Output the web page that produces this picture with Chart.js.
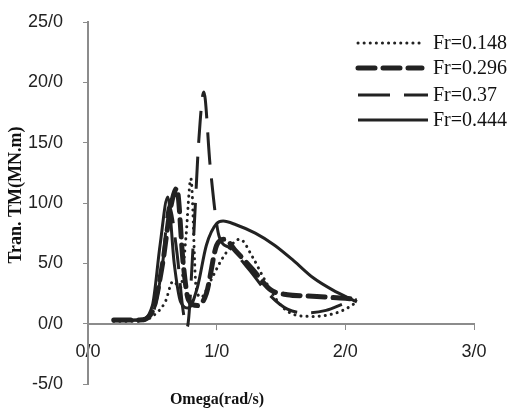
<!DOCTYPE html>
<html>
<head>
<meta charset="utf-8">
<script src="https://cdn.jsdelivr.net/npm/chart.js@4"></script>
<style>
  body { margin: 0; background: #fff; }
  #wrap { width: 516px; height: 409px; }
</style>
</head>
<body>
<div id="wrap"><canvas id="tmChart" width="516" height="409"></canvas></div>
<script>
// Series (omega in rad/s, moment in MN.m)
const labels = ['Fr=0.148', 'Fr=0.296', 'Fr=0.37', 'Fr=0.444'];

const omega148 = [0.20, 0.40, 0.50, 0.60, 0.66, 0.72, 0.76, 0.80, 0.84, 0.88, 0.95, 1.05, 1.18, 1.28, 1.38, 1.50, 1.62, 1.75, 1.90, 2.00, 2.09];
const tm148    = [0.2,  0.2,  0.6,  1.8,  3.5,  3.0,  7.0,  12.0, 3.0,  2.2,  3.5,  5.5,  7.0,  5.5,  3.5,  1.5,  0.7,  0.6,  0.8,  1.2,  1.8];

const omega296 = [0.20, 0.40, 0.50, 0.58, 0.64, 0.69, 0.74, 0.78, 0.85, 0.92, 1.00, 1.06, 1.15, 1.28, 1.42, 1.55, 1.70, 1.85, 2.00, 2.09];
const tm296    = [0.3,  0.3,  1.0,  5.0,  9.5,  11.2, 5.0,  2.0,  1.5,  2.5,  6.5,  7.0,  6.0,  4.5,  2.8,  2.4,  2.3,  2.2,  2.1,  2.0];

const omega37 = [0.20, 0.42, 0.50, 0.58, 0.63, 0.69, 0.74, 0.77, 0.82, 0.86, 0.90, 0.95, 1.02, 1.10, 1.25, 1.40, 1.55, 1.70, 1.85, 2.00, 2.09];
const tm37    = [0.3,  0.3,  0.8,  5.0,  9.8,  6.0,  1.0,  -0.3, 7.0,  15.0, 19.2, 13.0, 7.2,  6.3,  4.5,  2.5,  1.2,  0.9,  1.1,  1.7,  2.0];

const omega444 = [0.19, 0.40, 0.50, 0.56, 0.62, 0.67, 0.72, 0.78, 0.85, 0.92, 1.00, 1.05, 1.15, 1.30, 1.45, 1.60, 1.75, 1.90, 2.09];
const tm444    = [0.25, 0.3,  1.5,  6.5,  10.5, 5.0,  1.8,  1.3,  3.0,  6.5,  8.3,  8.5,  8.2,  7.5,  6.5,  5.2,  3.8,  2.8,  1.8];

const yTicks = [-5, 0, 5, 10, 15, 20, 25];
const xTicks = [0, 1, 2, 3];

const ink = '#222222';

function pts(xs, ys) {
    return xs.map((x, i) => ({ x: x, y: ys[i] }));
}

const styles = [
    { borderWidth: 3, borderDash: [0.1, 6], borderCapStyle: 'round' },
    { borderWidth: 5, borderDash: [17, 8], borderCapStyle: 'round' },
    { borderWidth: 3, borderDash: [32, 14], borderCapStyle: 'butt' },
    { borderWidth: 3, borderDash: [], borderCapStyle: 'butt' }
];

const series = [pts(omega148, tm148), pts(omega296, tm296), pts(omega37, tm37), pts(omega444, tm444)];

const datasets = series.map((data, i) => Object.assign({
    label: labels[i],
    data: data,
    borderColor: ink,
    backgroundColor: ink,
    pointRadius: 0,
    fill: false,
    tension: 0.4,
    cubicInterpolationMode: 'monotone'
}, styles[i]));

// legend inside the plot (top right) and the two axis titles
const extras = {
    id: 'extras',
    afterDraw(chart) {
        const ctx = chart.ctx;
        const rows = [43, 68, 95, 120];
        const ends = [420, 422, 428, 428];
        ctx.save();
        chart.data.datasets.forEach((ds, i) => {
            ctx.strokeStyle = ds.borderColor;
            ctx.lineWidth = ds.borderWidth;
            ctx.setLineDash(ds.borderDash);
            ctx.lineCap = ds.borderCapStyle;
            ctx.beginPath();
            ctx.moveTo(358, rows[i]);
            ctx.lineTo(ends[i], rows[i]);
            ctx.stroke();
            ctx.setLineDash([]);
            ctx.fillStyle = '#111';
            ctx.font = '20px "Liberation Serif", serif';
            ctx.textBaseline = 'middle';
            ctx.fillText(ds.label, 433, rows[i] + 1);
        });
        ctx.fillStyle = '#111';
        ctx.font = 'bold 16px "Liberation Serif", serif';
        ctx.textAlign = 'center';
        ctx.textBaseline = 'middle';
        ctx.fillText('Omega(rad/s)', 217, 400);
        ctx.translate(16, 195);
        ctx.rotate(-Math.PI / 2);
        ctx.font = 'bold 18px "Liberation Serif", serif';
        ctx.fillText('Tran. TM(MN.m)', 0, 0);
        ctx.restore();
    }
};

const fmt = v => v.toFixed(1).replace('.', '/');

new Chart(document.getElementById('tmChart').getContext('2d'), {
    type: 'line',
    data: { datasets: datasets },
    options: {
        responsive: false,
        animation: false,
        layout: { padding: { left: 0, top: 22, right: 42, bottom: 25 } },
        plugins: {
            legend: { display: false },
            tooltip: { enabled: false }
        },
        scales: {
            x: {
                type: 'linear',
                position: { y: 0 },
                min: 0,
                max: 3,
                afterBuildTicks: s => { s.ticks = xTicks.map(v => ({ value: v })); },
                afterFit: s => { s.paddingLeft = 0; s.paddingRight = 0; },
                ticks: {
                    callback: fmt,
                    color: '#222',
                    font: { family: '"Liberation Sans", sans-serif', size: 18 },
                    padding: 13
                },
                grid: { drawOnChartArea: false, color: '#8c8c8c', tickLength: 5 },
                border: { color: '#8c8c8c', width: 2 }
            },
            y: {
                min: -5,
                max: 25,
                afterBuildTicks: s => { s.ticks = yTicks.map(v => ({ value: v })); },
                afterFit: s => { s.width = 88; s.paddingTop = 0; s.paddingBottom = 0; },
                ticks: {
                    callback: fmt,
                    color: '#222',
                    font: { family: '"Liberation Sans", sans-serif', size: 18 },
                    padding: 20
                },
                grid: { drawOnChartArea: false, color: '#8c8c8c', tickLength: 5 },
                border: { color: '#8c8c8c', width: 2 }
            }
        }
    },
    plugins: [extras]
});
</script>
</body>
</html>
